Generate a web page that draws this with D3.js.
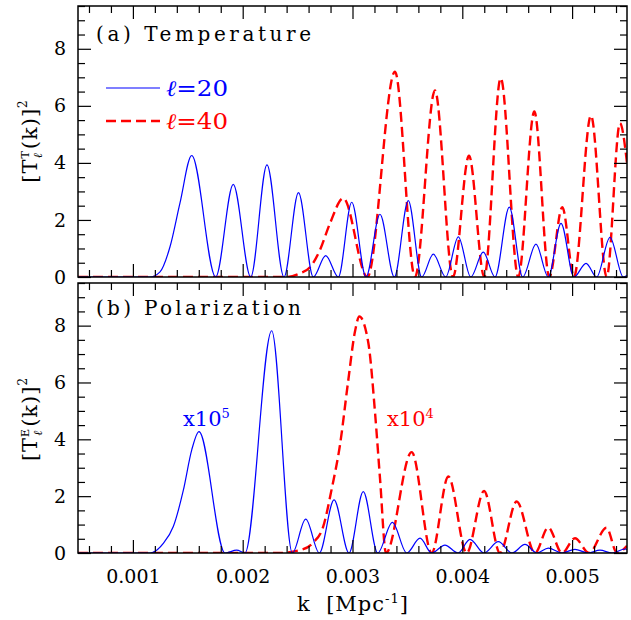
<!DOCTYPE html>
<html>
<head>
<meta charset="utf-8">
<script src="https://cdn.jsdelivr.net/npm/d3@7"></script>
<style>
  html, body { margin: 0; padding: 0; background: #fff; }
  svg { display: block; }
  text { font-family: "DejaVu Serif", serif; fill: #000; }
</style>
</head>
<body>
<svg id="chart" width="631" height="620"></svg>
<script>
// Wavenumber k [Mpc^-1] and transfer-function values for each curve

// (a) Temperature, l = 20
const kTempL20 = [0.0005, 0.001156, 0.001247, 0.001338, 0.001429, 0.001536, 0.001754, 0.001914, 0.002073, 0.002221,
  0.002376, 0.002508, 0.002643, 0.002756, 0.002871, 0.002993, 0.003123, 0.003250, 0.003381, 0.003508,
  0.003630, 0.003736, 0.003849, 0.003964, 0.004077, 0.004191, 0.004298, 0.004428, 0.004550, 0.004671,
  0.004783, 0.004899, 0.005017, 0.005127, 0.005224, 0.005345, 0.005466, 0.0055];
const tempL20 = [0, 0, 0.18, 1.06, 2.6, 4.26, 0, 3.25, 0, 3.93,
  0, 2.96, 0, 0.75, 0, 2.62, 0, 2.2, 0, 2.68,
  0, 0.8, 0, 1.41, 0, 0.87, 0, 2.45, 0, 1.15,
  0, 1.88, 0, 0.48, 0, 1.39, 0, 0.05];

// (a) Temperature, l = 40
const kTempL40 = [0.0005, 0.002403, 0.002522, 0.002613, 0.002704, 0.002795, 0.002916, 0.003135, 0.003387, 0.003569,
  0.003751, 0.003915, 0.004061, 0.004200, 0.004350, 0.004510, 0.004656, 0.004792, 0.004911, 0.005017,
  0.005172, 0.005315, 0.005436, 0.0055];
const tempL40 = [0, 0, 0.13, 0.34, 0.95, 1.88, 2.76, 0, 7.2, 0,
  6.54, 0, 4.25, 0, 6.97, 0, 5.8, 0, 2.45, 0,
  5.66, 0, 5.39, 4.0];

// (b) Polarization, l = 20 (scaled x10^5)
const kPolL20 = [0.0005, 0.001156, 0.001277, 0.001368, 0.001459, 0.001536, 0.001602, 0.001839, 0.001945, 0.002021,
  0.002264, 0.002452, 0.002574, 0.002698, 0.002832, 0.002968, 0.003098, 0.003230, 0.003363, 0.003494,
  0.003615, 0.003721, 0.003842, 0.003961, 0.004070, 0.004198, 0.004328, 0.004453, 0.004571, 0.004680,
  0.004783, 0.004908, 0.005026, 0.005145, 0.005254, 0.005363, 0.005482, 0.0055];
const polL20 = [0, 0, 0.34, 0.93, 2.2, 3.63, 4.27, 0, 0.1, 0,
  7.82, 0, 1.19, 0, 1.87, 0, 2.16, 0, 1.08, 0,
  0.52, 0, 0.28, 0, 0.48, 0, 0.4, 0, 0.3, 0,
  0.17, 0, 0.13, 0, 0.1, 0, 0.14, 0.13];

// (b) Polarization, l = 40 (scaled x10^4)
const kPolL40 = [0.0005, 0.002322, 0.002522, 0.002640, 0.002731, 0.002813, 0.002886, 0.002959, 0.003023, 0.003062,
  0.003144, 0.003206, 0.003251, 0.003305, 0.003539, 0.003721, 0.003873, 0.004040, 0.004198, 0.004343,
  0.004495, 0.004662, 0.004783, 0.004908, 0.005026, 0.005154, 0.005313, 0.005409, 0.0055];
const polL40 = [0, 0, 0.1, 0.36, 0.9, 2.3, 3.8, 6.0, 7.8, 8.32,
  7.4, 4.9, 2.6, 0, 3.55, 0, 2.69, 0, 2.18, 0,
  1.81, 0, 0.9, 0, 0.52, 0, 0.89, 0, 0.25];

// Axis ticks
const xTickValues = [0.001, 0.002, 0.003, 0.004, 0.005];
const yTickValues = [0, 2, 4, 6, 8];
const legendValues = ["20", "40"];

const BLUE = "#0000ff", RED = "#ff0000";

const svg = d3.select("#chart");
const left = 78, right = 627;
const x = d3.scaleLinear().domain([0.0005, 0.0055]).range([left, right]);

const panels = [
  { id: "a", top: 6, bottom: 277, title: "(a) Temperature", titleLen: 215, titleY: 41,
    series: [ { k: kTempL20, v: tempL20, color: BLUE, dashed: false },
              { k: kTempL40, v: tempL40, color: RED, dashed: true } ],
    ylabelSup: "T", ylabelY: 141, xLabels: false },
  { id: "b", top: 283, bottom: 553, title: "(b) Polarization", titleLen: 205, titleY: 315,
    series: [ { k: kPolL20, v: polL20, color: BLUE, dashed: false },
              { k: kPolL40, v: polL40, color: RED, dashed: true } ],
    ylabelSup: "E", ylabelY: 419, xLabels: true }
];

const xMinor = d3.range(0.0006, 0.00545, 0.0002).filter(t => Math.abs(t * 1000 - Math.round(t * 1000)) > 1e-6);
const yMinor = d3.range(0.5, 9.51, 0.5).filter(t => t % 2 !== 0);

panels.forEach(p => {
  const y = d3.scaleLinear().domain([0, 9.5]).range([p.bottom, p.top]);
  const g = svg.append("g");

  // clip region for the curves
  svg.append("clipPath").attr("id", "clip-" + p.id)
    .append("rect").attr("x", left).attr("y", p.top).attr("width", right - left).attr("height", p.bottom - p.top);

  const line = d3.line().x(d => x(d[0])).y(d => y(d[1])).curve(d3.curveMonotoneX);
  const curves = g.append("g").attr("clip-path", "url(#clip-" + p.id + ")");
  // dashed curve underneath the solid one
  [p.series[1], p.series[0]].forEach(s => {
    const pts = s.k.map((k, i) => [k, s.v[i]]);
    curves.append("path").datum(pts)
      .attr("d", line)
      .attr("fill", "none")
      .attr("stroke", s.color)
      .attr("stroke-width", s.dashed ? 2.4 : 1.2)
      .attr("stroke-dasharray", s.dashed ? "10,5" : null);
  });

  // axes with inward ticks on all four sides
  const axes = [
    { ax: d3.axisBottom(x), tr: `translate(0,${p.bottom})`, vals: xTickValues, minor: xMinor, labels: p.xLabels, fmt: d3.format(".3f"), pad: 17 },
    { ax: d3.axisTop(x), tr: `translate(0,${p.top})`, vals: xTickValues, minor: xMinor, labels: false },
    { ax: d3.axisLeft(y), tr: `translate(${left},0)`, vals: yTickValues, minor: yMinor, labels: true, fmt: d3.format("d"), pad: 12 },
    { ax: d3.axisRight(y), tr: `translate(${right},0)`, vals: yTickValues, minor: yMinor, labels: false }
  ];
  axes.forEach(a => {
    const gMinor = g.append("g").attr("transform", a.tr)
      .call(a.ax.tickValues(a.minor).tickSize(-7).tickFormat(""));
    gMinor.select(".domain").remove();
    gMinor.selectAll("line").attr("stroke", "#000").attr("stroke-width", 1.2);
    const gMajor = g.append("g").attr("transform", a.tr)
      .call(a.ax.tickValues(a.vals).tickSize(-13).tickPadding(a.pad || 3).tickFormat(a.labels ? a.fmt : ""));
    gMajor.select(".domain").remove();
    gMajor.selectAll("line").attr("stroke", "#000").attr("stroke-width", 1.2);
    gMajor.selectAll("text").attr("font-family", "DejaVu Serif").attr("font-size", 19).attr("fill", "#000");
  });

  // frame
  g.append("rect").attr("x", left).attr("y", p.top).attr("width", right - left).attr("height", p.bottom - p.top)
    .attr("fill", "none").attr("stroke", "#000").attr("stroke-width", 1.5);

  // panel title
  g.append("text").attr("x", 96).attr("y", p.titleY).attr("font-size", 20)
    .attr("textLength", p.titleLen).attr("lengthAdjust", "spacing").text(p.title);

  // y-axis label  [T_l^X(k)]^2
  const yl = g.append("text").attr("transform", `translate(37,${p.ylabelY}) rotate(-90)`)
    .attr("text-anchor", "middle").attr("font-size", 21).attr("letter-spacing", 1);
  yl.append("tspan").text("[T");
  yl.append("tspan").attr("font-size", 11).attr("dy", -8).text(p.ylabelSup);
  yl.append("tspan").attr("font-size", 12).attr("font-style", "italic").attr("dx", -8).attr("dy", 13).text("ℓ");
  yl.append("tspan").attr("dx", 3).attr("dy", -5).text("(k)]");
  yl.append("tspan").attr("font-size", 12).attr("dy", -10).text("2");
});

// legend in panel (a)
const legend = svg.append("g");
[0, 1].forEach(i => {
  const yy = 88 + i * 33;
  const col = i === 0 ? BLUE : RED;
  legend.append("line").attr("x1", 106).attr("x2", 160).attr("y1", yy).attr("y2", yy)
    .attr("stroke", col).attr("stroke-width", i === 0 ? 1.2 : 2.4)
    .attr("stroke-dasharray", i === 0 ? null : "10,5");
  const t = legend.append("text").attr("x", 166).attr("y", yy + 8).attr("font-size", 22)
    .attr("textLength", 62).attr("lengthAdjust", "spacingAndGlyphs")
    .style("fill", col);
  t.append("tspan").attr("font-style", "italic").text("ℓ");
  t.append("tspan").text("=" + legendValues[i]);
});

// scale annotations in panel (b)
function scaleNote(xp, yp, col, exp) {
  const t = svg.append("text").attr("x", xp).attr("y", yp).attr("font-size", 21).style("fill", col);
  t.append("tspan").text("x10");
  t.append("tspan").attr("font-size", 13).attr("dy", -8).text(exp);
}
scaleNote(183, 426, BLUE, "5");
scaleNote(387, 426, RED, "4");

// x-axis title
const xt = svg.append("text").attr("x", 353).attr("y", 611).attr("text-anchor", "middle")
  .attr("font-size", 21).attr("letter-spacing", 1);
xt.append("tspan").text("k\u00a0\u00a0[Mpc");
xt.append("tspan").attr("font-size", 13).attr("dy", -8).text("-1");
xt.append("tspan").attr("dy", 8).text("]");
</script>
</body>
</html>
